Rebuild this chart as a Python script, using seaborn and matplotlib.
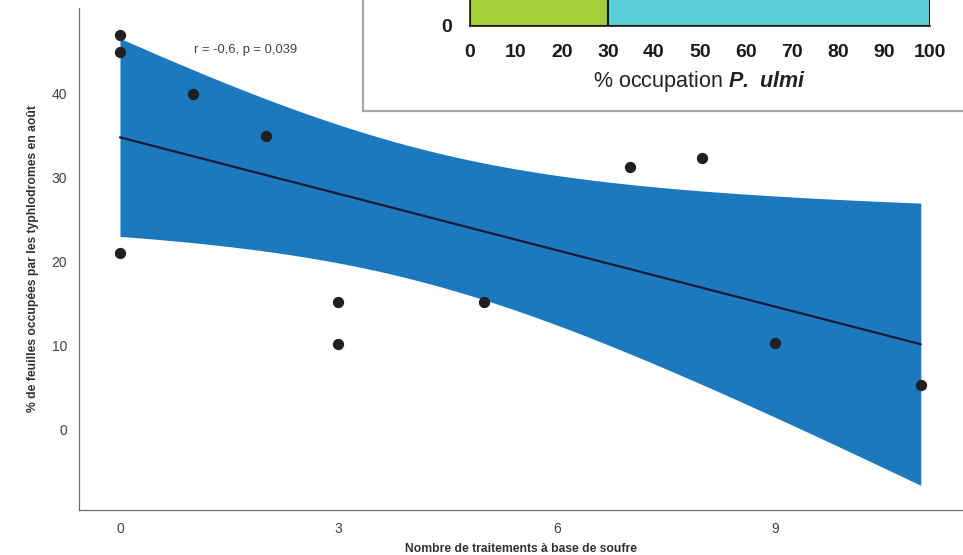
import numpy as np
import pandas as pd
import matplotlib
matplotlib.use("Agg")
import matplotlib.pyplot as plt
import seaborn as sns

# ------------------------------------------------------------------
# données
# ------------------------------------------------------------------
nb_traitements = [0, 0, 0, 1, 2, 3, 3, 5, 7, 8, 9, 11]
pct_feuilles = [47, 45, 21, 40, 35, 15.2, 10.2, 15.2, 31.3, 32.4, 10.4, 5.4]

x_ticks = [0, 3, 6, 9]
y_ticks = [0, 10, 20, 30, 40]

# encart : barres "% occupation P. ulmi"
occ_gauche = [0, 30]
occ_largeur = [30, 70]
occ_couleurs = ["#a6ce39", "#5bcfd6"]
occ_ticks = list(range(0, 101, 10))

BAND_COLOR = "#1c79be"
LINE_COLOR = "#1a1a38"
POINT_COLOR = "#231f20"
AXIS_GREY = "#6d6d6d"

sns.set_style("white")
plt.rcParams['font.family'] = ['Liberation Sans', 'DejaVu Sans']
plt.rcParams['mathtext.fontset'] = 'custom'
plt.rcParams['mathtext.bfit'] = 'Liberation Sans:bold:italic'

df = pd.DataFrame({"x": nb_traitements, "y": pct_feuilles})

W, H = 963, 555
fig = plt.figure(figsize=(W / 100, H / 100), dpi=100)
ax = fig.add_axes([79 / W, 45 / H, (W - 79) / W, 502 / H])
ax.set_zorder(1)

# bande de confiance à 95 % (ajustement linéaire, loi de Student)
xv = df["x"].values.astype(float)
yv = df["y"].values.astype(float)
n = len(xv)
pente, ordo = np.polyfit(xv, yv, 1)
resid = yv - (pente * xv + ordo)
s = np.sqrt((resid ** 2).sum() / (n - 2))
sxx = ((xv - xv.mean()) ** 2).sum()
grille = np.linspace(xv.min(), xv.max(), 200)
t_crit = 2.228  # t(0.975, ddl=10)
demi = t_crit * s * np.sqrt(1 / n + (grille - xv.mean()) ** 2 / sxx)
ajust = pente * grille + ordo
ax.fill_between(grille, ajust - demi, ajust + demi, color=BAND_COLOR, lw=0, zorder=1)

sns.regplot(data=df, x="x", y="y", ax=ax, ci=None, truncate=True,
            scatter_kws=dict(s=66, color=POINT_COLOR, zorder=3, linewidths=0, alpha=1),
            line_kws=dict(color=LINE_COLOR, lw=1.6, zorder=2))

ax.set_xlim(-0.563, 11.58)
ax.set_ylim(-9.52, 50.2)
ax.set_xticks(x_ticks)
ax.set_yticks(y_ticks)
for side in ["top", "right"]:
    ax.spines[side].set_visible(False)
for side in ["left", "bottom"]:
    ax.spines[side].set_color(AXIS_GREY)
    ax.spines[side].set_linewidth(0.9)
ax.tick_params(axis="both", colors=AXIS_GREY, length=3.5, width=0.8,
               labelsize=10, labelcolor="#404040", pad=5)
ax.set_xlabel("Nombre de traitements à base de soufre", fontsize=8.7,
              fontweight="bold", color="#303030", labelpad=5)
ax.set_ylabel("% de feuilles occupées par les typhlodromes en août", fontsize=8.7,
              fontweight="bold", color="#303030", labelpad=9)
ax.text(1.72, 45.2, "r = -0,6, p = 0,039", fontsize=9.3, color="#404040",
        ha="center", va="center")

# ------------------------------------------------------------------
# encart (figure voisine qui recouvre le coin supérieur droit)
# ------------------------------------------------------------------
boite = fig.add_axes([363 / W, (H - 111) / H, 0.8, 0.4])
boite.set_zorder(2)
boite.set_facecolor("white")
boite.set_xticks([])
boite.set_yticks([])
for side in boite.spines.values():
    side.set_color("#a8a8a8")
    side.set_linewidth(1.6)

ins = fig.add_axes([470 / W, (H - 26) / H, 460 / W, 26 / H])
ins.set_zorder(3)
ins.patch.set_alpha(0)
ins.bar(occ_gauche, [5, 5], width=occ_largeur, align="edge",
        color=occ_couleurs, edgecolor="#1a1a1a", linewidth=1.5)
ins.set_xlim(0, 100)
ins.set_ylim(0, 1)
ins.set_xticks(occ_ticks)
ins.set_yticks([0])
for side in ["top", "right"]:
    ins.spines[side].set_visible(False)
for side in ["left", "bottom"]:
    ins.spines[side].set_color("#1a1a1a")
    ins.spines[side].set_linewidth(1.2)
ins.tick_params(axis="both", length=7, width=1.1, color="#1a1a1a",
                labelsize=14, pad=6)
for lab in ins.get_xticklabels() + ins.get_yticklabels():
    lab.set_fontweight("bold")
    lab.set_color("#1a1a1a")
ins.set_xlabel(r"% occupation $\mathbfit{P.\ ulmi}$", fontsize=15.5,
               color="#222222", labelpad=6)

fig.savefig("out.png", dpi=100)
